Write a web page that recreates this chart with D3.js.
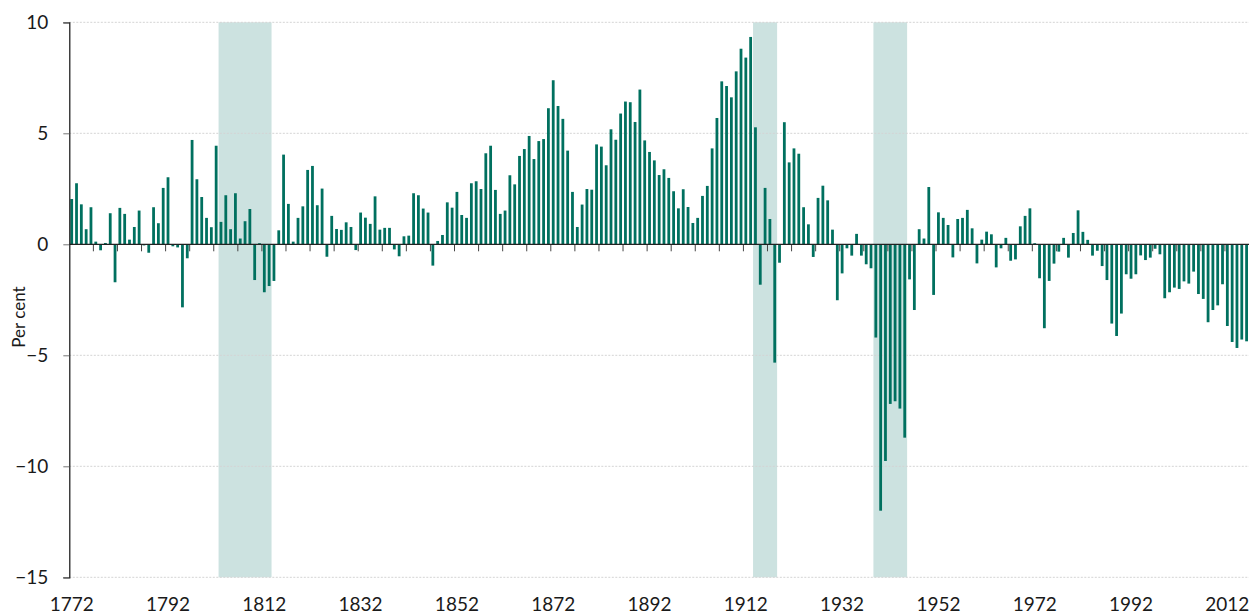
<!DOCTYPE html>
<html>
<head>
<meta charset="utf-8">
<script src="https://cdn.jsdelivr.net/npm/d3@7"></script>
<style>
  html, body { margin: 0; padding: 0; background: #fff; }
  svg { display: block; }
  text { font-family: "Lato", "Noto Sans", sans-serif; fill: #1a1a1a; }
</style>
</head>
<body>
<svg id="chart" width="1254" height="615"></svg>
<script>
// ---- data ----
const firstYear = 1772;
const lastYear = 2016;
const values = [
  2.04, 2.75, 1.80, 0.68, 1.67, 0.12, -0.27, 0.06, 1.40, -1.71,   // 1772-1781
  1.64, 1.37, 0.21, 0.78, 1.52, -0.05, -0.38, 1.67, 0.95, 2.54,   // 1782-1791
  3.02, -0.09, -0.14, -2.84, -0.63, 4.70, 2.93, 2.13, 1.19, 0.77, // 1792-1801
  4.44, 1.01, 2.21, 0.68, 2.30, 0.26, 1.04, 1.59, -1.61, 0.05,    // 1802-1811
  -2.16, -1.88, -1.65, 0.63, 4.04, 1.82, 0.12, 1.19, 1.71, 3.35,  // 1812-1821
  3.53, 1.76, 2.51, -0.56, 1.28, 0.69, 0.65, 0.99, 0.78, -0.26,   // 1822-1831
  1.43, 1.20, 0.92, 2.16, 0.66, 0.74, 0.74, -0.23, -0.54, 0.36,   // 1832-1841
  0.39, 2.30, 2.21, 1.61, 1.43, -0.96, 0.15, 0.42, 1.89, 1.65,    // 1842-1851
  2.36, 1.32, 1.19, 2.75, 2.84, 2.49, 4.10, 4.44, 2.45, 1.37,     // 1852-1861
  1.52, 3.11, 2.70, 3.98, 4.29, 4.88, 3.84, 4.65, 4.74, 6.13,     // 1862-1871
  7.39, 6.23, 5.65, 4.22, 2.36, 0.78, 1.79, 2.49, 2.46, 4.50,     // 1872-1881
  4.40, 3.56, 5.18, 4.71, 5.89, 6.43, 6.40, 5.51, 6.97, 4.68,     // 1882-1891
  4.16, 3.78, 3.12, 3.38, 2.99, 2.39, 1.62, 2.48, 1.68, 0.96,     // 1892-1901
  1.19, 2.18, 2.63, 4.32, 5.69, 7.34, 7.13, 6.62, 7.79, 8.81,     // 1902-1911
  8.41, 9.34, 5.27, -1.82, 2.54, 1.14, -5.33, -0.83, 5.50, 3.69,  // 1912-1921
  4.32, 4.08, 1.67, 0.90, -0.57, 2.09, 2.64, 1.98, 0.66, -2.52,   // 1922-1931
  -1.31, -0.18, -0.51, 0.47, -0.51, -0.90, -1.08, -4.20, -12.0, -9.76, // 1932-1941
  -7.19, -7.07, -7.40, -8.71, -1.58, -2.96, 0.68, 0.26, 2.58, -2.28,   // 1942-1951
  1.44, 1.19, 0.87, -0.59, 1.14, 1.19, 1.55, 0.72, -0.86, 0.21,   // 1952-1961
  0.57, 0.45, -1.04, -0.18, 0.29, -0.74, -0.68, 0.81, 1.28, 1.62, // 1962-1971
  0.05, -1.53, -3.78, -1.65, -0.87, -0.33, 0.29, -0.60, 0.51, 1.53,   // 1972-1981
  0.56, 0.20, -0.51, -0.29, -0.98, -1.61, -3.57, -4.13, -3.12, -1.35, // 1982-1991
  -1.55, -1.35, -0.50, -0.71, -0.60, -0.20, -0.45, -2.43, -2.16, -1.95, // 1992-2001
  -2.01, -1.67, -1.77, -1.23, -2.24, -2.46, -3.51, -2.96, -2.75, -1.80, // 2002-2011
  -3.68, -4.40, -4.67, -4.29, -4.37                                // 2012-2016
];
const years = d3.range(firstYear, lastYear + 1);
const shadedPeriods = [
  { from: 1803, to: 1813 },
  { from: 1914, to: 1918 },
  { from: 1939, to: 1945 }
];
const yTickValues = [10, 5, 0, -5, -10, -15];
const xLabelYears = [1772, 1792, 1812, 1832, 1852, 1872, 1892, 1912, 1932, 1952, 1972, 1992, 2012];
const yAxisTitle = "Per cent";

// ---- layout ----
const svg = d3.select("#chart");
const plotLeft = 69.3, plotRight = 1249, plotTop = 22.3, plotBottom = 577.3;
const barColor = "#00705f";
const shadeColor = "#cce2e0";

const x = d3.scaleBand()
  .domain(years)
  .range([plotLeft, plotRight])
  .paddingInner(0.42)
  .paddingOuter(0.21);
const y = d3.scaleLinear().domain([-15, 10]).range([plotBottom, plotTop]);

const gap = x.step() - x.bandwidth();

// shaded periods
svg.append("g").selectAll("rect")
  .data(shadedPeriods)
  .join("rect")
  .attr("x", d => x(d.from) - gap / 2)
  .attr("width", d => x(d.to) + x.bandwidth() + gap / 2 - (x(d.from) - gap / 2))
  .attr("y", y(10))
  .attr("height", y(-15) - y(10))
  .attr("fill", shadeColor);

// gridlines
svg.append("g").selectAll("line")
  .data(yTickValues.filter(v => v !== 0))
  .join("line")
  .attr("x1", plotLeft).attr("x2", plotRight)
  .attr("y1", d => y(d)).attr("y2", d => y(d))
  .attr("stroke", "#d4d4d4")
  .attr("stroke-width", 1)
  .attr("stroke-dasharray", "2,1.5");

// bars
svg.append("g").selectAll("rect")
  .data(years.map((yr, i) => ({ year: yr, value: values[i] })))
  .join("rect")
  .attr("x", d => x(d.year))
  .attr("width", x.bandwidth())
  .attr("y", d => y(Math.max(0, d.value)))
  .attr("height", d => Math.abs(y(d.value) - y(0)))
  .attr("fill", barColor);

// x axis (zero line) with ticks every 5 categories
const xAxisG = svg.append("g");
xAxisG.selectAll("line.tick")
  .data(years.filter((yr, i) => i % 5 === 0 && i > 0))
  .join("line")
  .attr("class", "tick")
  .attr("x1", d => x(d) - gap / 2).attr("x2", d => x(d) - gap / 2)
  .attr("y1", y(0)).attr("y2", y(0) + 7)
  .attr("stroke", "#444").attr("stroke-width", 1);
xAxisG.append("line")
  .attr("x1", plotLeft).attr("x2", plotRight)
  .attr("y1", y(0)).attr("y2", y(0))
  .attr("stroke", "#222").attr("stroke-width", 1.3);
xAxisG.selectAll("text")
  .data(xLabelYears)
  .join("text")
  .attr("x", d => x(d) + x.bandwidth() / 2)
  .attr("y", 611)
  .attr("text-anchor", "middle")
  .attr("font-size", 19)
  .text(d => d);

// y axis
const yAxis = d3.axisLeft(y).tickValues(yTickValues).tickSize(6).tickPadding(15).tickFormat(d3.format("d"));
const yG = svg.append("g").attr("transform", `translate(${plotLeft},0)`).call(yAxis);
yG.select(".domain").attr("stroke", "#111").attr("stroke-width", 1.2);
yG.selectAll(".tick line").attr("stroke", "#777");
yG.selectAll(".tick text").attr("font-size", 19).attr("font-family", "Lato, sans-serif").attr("fill", "#1a1a1a");

// y title
svg.append("text")
  .attr("transform", "translate(25,317) rotate(-90)")
  .attr("text-anchor", "middle")
  .attr("font-size", 17)
  .text(yAxisTitle);
</script>
</body>
</html>
